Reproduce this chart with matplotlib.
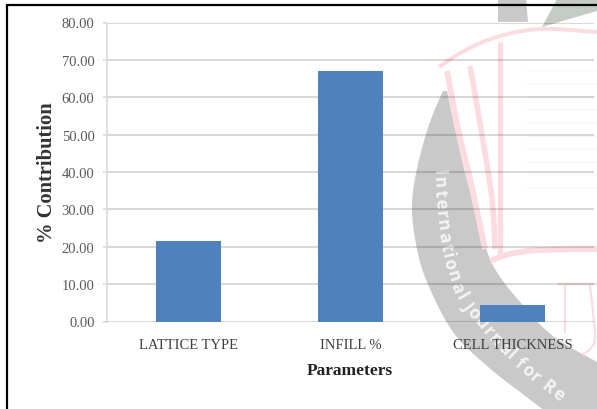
import numpy as np
import matplotlib
matplotlib.use("Agg")
import matplotlib.pyplot as plt
from matplotlib.patches import Polygon
from matplotlib.textpath import text_to_path
from matplotlib.font_manager import FontProperties

parameters = ["LATTICE TYPE", "INFILL %", "CELL THICKNESS"]
contribution = [21.5, 67.1, 4.5]
y_ticks = [0, 10, 20, 30, 40, 50, 60, 70, 80]

# watermark outlines, in pixels from the top left corner
ring_outer = [(443, 92), (430, 123), (418, 165), (412, 205), (416, 245), (427, 283), (453, 333), (487, 367), (520, 393), (545, 412)]
ring_inner = [(597, 363), (553, 337), (520, 303), (495, 270), (482, 237), (472, 200), (463, 165), (455, 130), (447, 92)]
seal_top = [(498, 0), (526, 0), (528, 23), (498, 23)]
seal_right = [(557, 0), (597, 0), (597, 12), (542, 28)]
book_top = [(439, 68), (464, 52), (497, 38), (540, 30), (597, 33)]
book_left = [(447, 72), (458, 130), (470, 180), (485, 250)]
book_mid = [(470, 67), (481, 130), (492, 200), (495, 250)]
book_right = [(500, 43), (500, 200), (500, 255)]
book_bottom = [(490, 262), (510, 255), (540, 251), (597, 250)]
letter_left = [(565, 287), (565, 333)]
letter_right = [(590, 287), (595, 337), (590, 350), (583, 355)]
letter_top = [(558, 285), (597, 285)]
text_path = [(438, 170), (443, 230), (455, 283), (472, 312), (500, 345), (535, 377), (563, 398), (597, 418)]
ring_text = "International Journal for Re"


def smooth(pts, n=12):
    # catmull-rom through the given points
    p = np.array([pts[0]] + list(pts) + [pts[-1]], dtype=float)
    out = []
    for i in range(1, len(p) - 2):
        for t in np.linspace(0, 1, n, endpoint=False):
            out.append(0.5 * (2 * p[i] + (p[i + 1] - p[i - 1]) * t
                              + (2 * p[i - 1] - 5 * p[i] + 4 * p[i + 1] - p[i + 2]) * t ** 2
                              + (3 * p[i] - p[i - 1] - 3 * p[i + 1] + p[i + 2]) * t ** 3))
    out.append(p[-2])
    return np.array(out)


fig = plt.figure(figsize=(5.97, 4.10), dpi=100)

# background layer with the journal seal and the page frame
bg = fig.add_axes([0, 0, 1, 1])
bg.set_xlim(0, 597)
bg.set_ylim(410, 0)
bg.axis("off")
grey = "#c9c9c9"
pink = "#fcdbe1"
ring = np.vstack([smooth(ring_outer), [(597, 412)], smooth(ring_inner)])
bg.add_patch(Polygon(ring, closed=True, fc=grey, ec="none"))
bg.add_patch(Polygon(seal_top, closed=True, fc=grey, ec="none"))
bg.add_patch(Polygon(seal_right, closed=True, fc="#c5cbc5", ec="none"))
for pts, lw in [(book_top, 2.8), (book_left, 4.2), (book_mid, 4.0), (book_right, 3.8), (book_bottom, 4.2)]:
    bg.plot(*smooth(pts).T, color=pink, lw=lw, solid_capstyle="butt")
for pts in [letter_left, letter_right, letter_top]:
    bg.plot(*smooth(pts).T, color="#f8dde2", lw=1.6)

# faint lines of text inside the book
for y in np.arange(72, 195, 13):
    bg.plot([527, 597], [y, y], color="#f8f8f8", lw=1.2)

# white lettering that follows the ring
fp = FontProperties(family="Open Sans", weight="bold", size=12.5)
path = smooth(text_path)
seg = np.hypot(*np.diff(path, axis=0).T)
dist = np.concatenate([[0], np.cumsum(seg)])
pos = 0.0
for ch in ring_text:
    w = text_to_path.get_text_width_height_descent(ch, fp, False)[0] * 100 / 72
    mid = pos + w / 2
    x = np.interp(mid, dist, path[:, 0])
    y = np.interp(mid, dist, path[:, 1])
    dx = np.interp(mid + 3, dist, path[:, 0]) - np.interp(mid - 3, dist, path[:, 0])
    dy = np.interp(mid + 3, dist, path[:, 1]) - np.interp(mid - 3, dist, path[:, 1])
    angle = -np.degrees(np.arctan2(dy, dx))
    bg.text(x, y, ch, color="#f4f4f4", fontproperties=fp, rotation=angle,
            rotation_mode="anchor", ha="center", va="center")
    pos += w * 1.15

bg.plot([7, 7], [410, 6], color="black", lw=1.6, solid_capstyle="butt")
bg.plot([6, 597], [6, 6], color="black", lw=1.6, solid_capstyle="butt")

# the bar chart itself
ax = fig.add_axes([107 / 597, (410 - 322.5) / 410, (594 - 107) / 597, 299 / 410])
ax.patch.set_alpha(0)
ax.bar(parameters, contribution, width=0.4, color="#4f81bd", zorder=3)
ax.set_xlim(-0.5, 2.5)
ax.set_ylim(0, 80)
ax.set_yticks(y_ticks)
ax.set_yticklabels([f"{v:.2f}" for v in y_ticks], family="Liberation Serif", fontsize=10.5, color="#595959")
ax.grid(axis="y", color="black", alpha=0.15, lw=1.5, zorder=1)
ax.tick_params(axis="y", length=3, width=1.2, color="#d9d9d9", pad=6)
ax.tick_params(axis="x", length=0, pad=12, labelsize=10.5, labelcolor="#404040")
for lab in ax.get_xticklabels():
    lab.set_family("Liberation Serif")
for s in ["top", "right", "bottom"]:
    ax.spines[s].set_visible(False)
ax.spines["left"].set_color("#d9d9d9")
ax.spines["left"].set_linewidth(1.2)

fig.text(350 / 597, 1 - 371 / 410, "Parameters", family="Liberation Serif", weight="bold",
         fontsize=12.5, color="#222222", ha="center", va="center")
fig.text(47 / 597, 1 - 173 / 410, "% Contribution", family="Liberation Serif", weight="bold",
         fontsize=14.8, color="#333333", rotation=90, ha="center", va="center")

fig.savefig("out.png", dpi=100)
